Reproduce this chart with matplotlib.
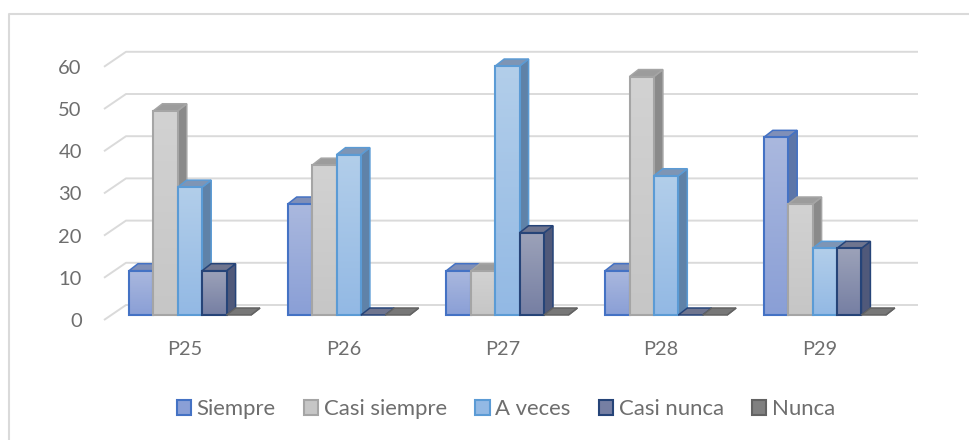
import matplotlib
matplotlib.use("Agg")
import matplotlib.pyplot as plt
import numpy as np
from matplotlib.lines import Line2D
from matplotlib.patches import Patch, Polygon, Rectangle
from matplotlib.transforms import ScaledTranslation

categories = ["P25", "P26", "P27", "P28", "P29"]
siempre = [10.5, 26.3, 10.5, 10.5, 42.1]
casi_siempre = [48.4, 35.5, 10.5, 56.5, 26.3]
a_veces = [30.3, 38.0, 59.0, 33.0, 15.8]
casi_nunca = [10.5, 0, 19.5, 0, 15.8]
nunca = [0, 0, 0, 0, 0]
series_names = ["Siempre", "Casi siempre", "A veces", "Casi nunca", "Nunca"]
y_ticks = [0, 10, 20, 30, 40, 50, 60]

# edge, gradient top, gradient bottom, top face, side face
styles = [
    ("#4472C4", "#AAB8DE", "#8A9FD6", "#7F8FB8", "#5D76A8"),
    ("#A5A5A5", "#D2D2D2", "#C6C6C6", "#9C9C9C", "#8A8A8A"),
    ("#5B9BD5", "#B2CEEA", "#93B9E4", "#7E95B5", "#5F82A8"),
    ("#264478", "#9CA2B9", "#767FA3", "#6F758F", "#50597A"),
    ("#636363", "#A0A0A0", "#808080", "#777777", "#5A5A5A"),
]
values = [siempre, casi_siempre, a_veces, casi_nunca, nunca]

W, H = 969, 440
px_x = 158.7  # pixels per category
px_y = 4.22   # pixels per value unit
x0_px, y0_px = 190, 315
text_color = "#6E6E6E"

plt.rcParams["font.family"] = ["Lato", "DejaVu Sans"]
fig = plt.figure(figsize=(W / 100, H / 100), dpi=100)

left, right, bottom_px, top_px = 104, 918, 320, 52
ax = fig.add_axes([left / W, 1 - bottom_px / H, (right - left) / W, (bottom_px - top_px) / H])
ax.set_facecolor("none")
for s in ax.spines.values():
    s.set_visible(False)

# only the top and left edges of the chart frame are in the picture
fig.add_artist(Line2D([8.5 / W, 8.5 / W, 1], [0, 1 - 14.5 / H, 1 - 14.5 / H], transform=fig.transFigure,
                      color="#DADADA", lw=1.5))

dx = 9 / px_x
dy = 7 / px_y
w = 24.4 / px_x
back_x0 = (126 - x0_px) / px_x
back_x1 = (right - x0_px) / px_x
front_x = (left - x0_px) / px_x
back_up = 10 / px_y
front_dn = 5 / px_y

for v in y_ticks:
    ax.plot([front_x, back_x0, back_x1], [v - front_dn, v + back_up, v + back_up],
            color="#DADADA", lw=1.4, zorder=1, clip_on=False, solid_capstyle="butt")

grad = np.linspace(0, 1, 64).reshape(-1, 1)
for i in range(len(categories)):
    for j, vals in enumerate(values):
        edge, c_top, c_bot, c_face, c_side = styles[j]
        v = vals[i]
        x = i + (j - 2.5) * w
        z = 2 + i * 10 + j
        ax.add_patch(Polygon([(x + w, 0), (x + w + dx, dy), (x + w + dx, v + dy), (x + w, v)],
                             fc=c_side, ec=edge, lw=1.1, zorder=z, clip_on=False))
        ax.add_patch(Polygon([(x, v), (x + dx, v + dy), (x + w + dx, v + dy), (x + w, v)],
                             fc=c_face, ec=edge, lw=1.1, zorder=z, clip_on=False))
        if v > 0:
            rgb_t = np.array(matplotlib.colors.to_rgb(c_top))
            rgb_b = np.array(matplotlib.colors.to_rgb(c_bot))
            img = (rgb_t[None, None, :] * (1 - grad[..., None]) + rgb_b[None, None, :] * grad[..., None])
            ax.imshow(img, extent=(x, x + w, 0, v), aspect="auto", zorder=z + 0.1, clip_on=False)
            ax.add_patch(Rectangle((x, 0), w, v, fc="none", ec=edge, lw=1.5, zorder=z + 0.2, clip_on=False))

ax.set_xlim((left - x0_px) / px_x, (right - x0_px) / px_x)
ax.set_ylim((y0_px - bottom_px) / px_y, (y0_px - top_px) / px_y)

ax.set_xticks(range(len(categories)))
ax.set_xticklabels(categories, fontsize=14.3, color=text_color)
ax.set_yticks(y_ticks)
ax.set_yticklabels([str(v) for v in y_ticks], fontsize=14.5, color=text_color)
ax.tick_params(axis="both", length=0)
ax.tick_params(axis="x", pad=15)
ax.tick_params(axis="y", pad=16)

# labels sit a little off the bar group centre and below the gridline level
for lab in ax.get_xticklabels():
    lab.set_transform(lab.get_transform() + ScaledTranslation(-5 / 100, 0, fig.dpi_scale_trans))
for lab in ax.get_yticklabels():
    lab.set_transform(lab.get_transform() + ScaledTranslation(0, -5 / 100, fig.dpi_scale_trans))

handles = [Patch(facecolor=s[2], edgecolor=s[0], lw=1.5) for s in styles]
fig.legend(handles, series_names, loc="center", bbox_to_anchor=(506 / W, 1 - 409 / H), ncol=5,
           frameon=False, fontsize=15.9, labelcolor=text_color, handlelength=0.65, handleheight=0.65,
           handletextpad=0.25, columnspacing=1.28)

fig.savefig("out.png", dpi=100)
